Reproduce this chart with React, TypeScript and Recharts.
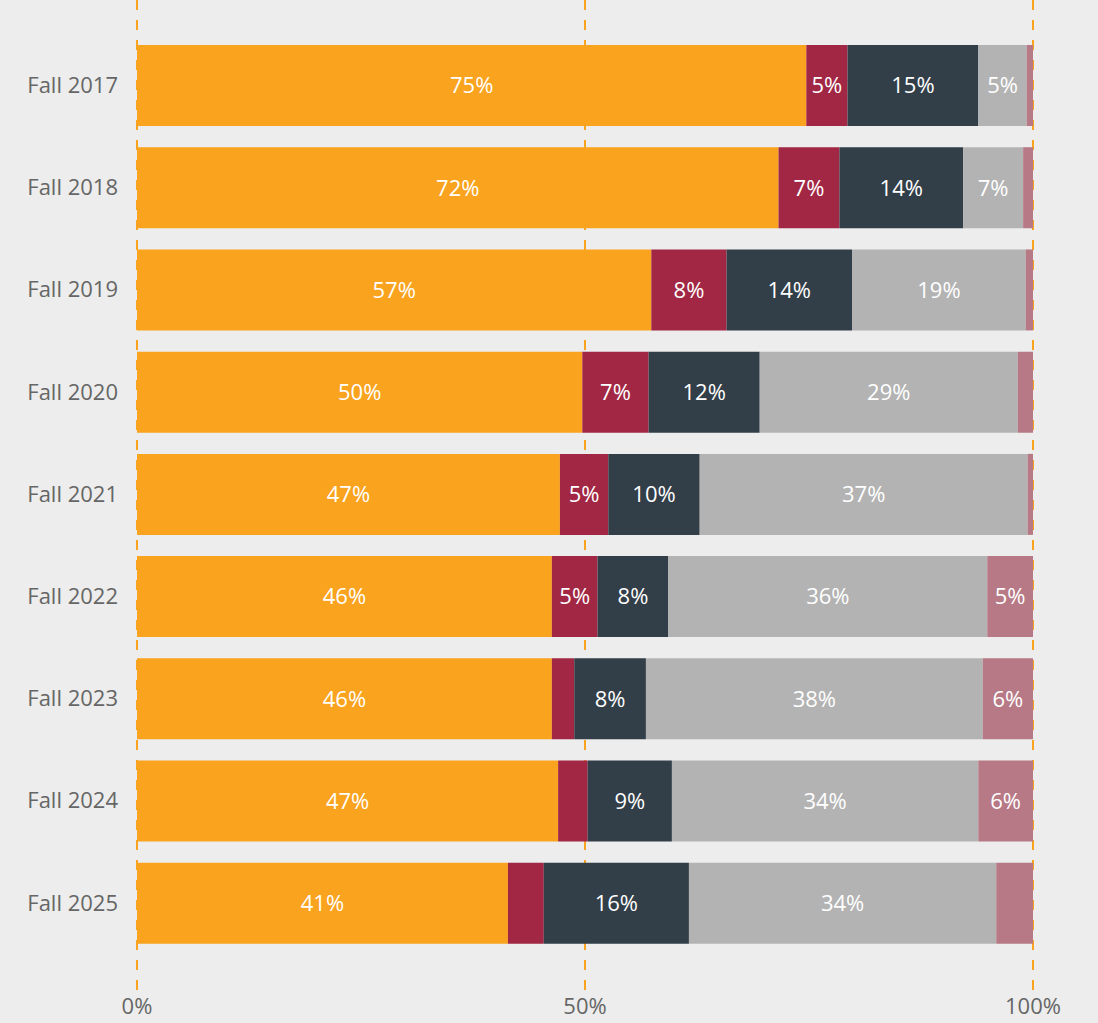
import { BarChart, Bar, XAxis, YAxis, CartesianGrid, LabelList } from 'recharts';

const terms = ['Fall 2017', 'Fall 2018', 'Fall 2019', 'Fall 2020', 'Fall 2021', 'Fall 2022', 'Fall 2023', 'Fall 2024', 'Fall 2025'];
const seriesA = [74.7, 71.6, 57.4, 49.7, 47.2, 46.3, 46.3, 47.0, 41.4];
const seriesB = [4.6, 6.8, 8.4, 7.4, 5.4, 5.1, 2.5, 3.3, 4.0];
const seriesC = [14.6, 13.8, 14.0, 12.4, 10.2, 7.9, 8.0, 9.4, 16.2];
const seriesD = [5.4, 6.7, 19.4, 28.8, 36.6, 35.6, 37.6, 34.2, 34.3];
const seriesE = [0.7, 1.1, 0.8, 1.7, 0.6, 5.1, 5.6, 6.1, 4.1];
const xTicks = [0, 50, 100];

const SERIES = [
  { key: 'a', color: '#F9A31E' },
  { key: 'b', color: '#A12744' },
  { key: 'c', color: '#323E48' },
  { key: 'd', color: '#B3B3B3' },
  { key: 'e', color: '#B77985' },
];

const data = terms.map((term, i) => ({
  term,
  a: seriesA[i],
  b: seriesB[i],
  c: seriesC[i],
  d: seriesD[i],
  e: seriesE[i],
}));

const FONT = '"Open Sans", "Noto Sans", sans-serif';

const fmt = (v: any) => {
  const n = Math.round(Number(v));
  return n >= 5 ? `${n}%` : '';
};

export default function App() {
  return (
    <div
      style={{
        position: 'fixed',
        left: 0,
        top: 0,
        width: 1098,
        height: 1023,
        background: '#ECEDEC',
        fontFamily: FONT,
      }}
    >
      <BarChart
        width={1098}
        height={1023}
        data={data}
        layout="vertical"
        margin={{ top: 0, right: 65, bottom: 0, left: 0 }}
        barSize={81}
      >
        <CartesianGrid
          horizontal={false}
          stroke="#F9A31E"
          strokeWidth={2}
          strokeDasharray="10 10"
        />
        <XAxis
          type="number"
          domain={[0, 100]}
          ticks={xTicks}
          tickFormatter={(v: number) => `${v}%`}
          axisLine={false}
          tickLine={false}
          tick={{ fontSize: 22, fill: '#666666', fontFamily: FONT }}
          tickMargin={2}
          height={33}
          interval={0}
        />
        <YAxis
          type="category"
          dataKey="term"
          width={137}
          axisLine={false}
          tickLine={false}
          tick={{ fontSize: 22, fill: '#666666', fontFamily: FONT }}
          tickMargin={13}
          padding={{ top: 34, bottom: 36 }}
        />
        {SERIES.map((s) => (
          <Bar key={s.key} dataKey={s.key} stackId="x" fill={s.color} isAnimationActive={false}>
            <LabelList
              dataKey={s.key}
              position="center"
              formatter={fmt}
              fill="#FFFFFF"
              style={{ fontSize: 22, fontFamily: FONT }}
            />
          </Bar>
        ))}
      </BarChart>
    </div>
  );
}
